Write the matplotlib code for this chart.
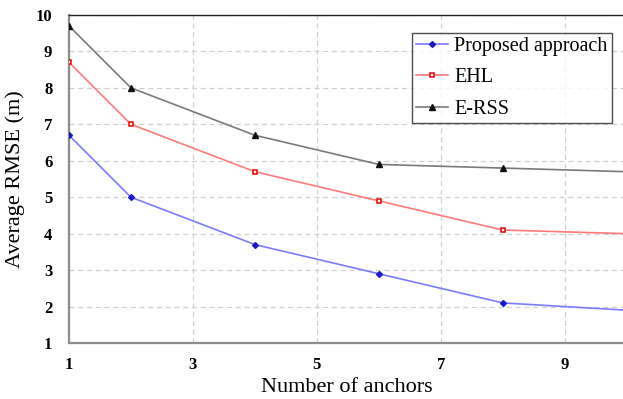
import matplotlib
matplotlib.use("Agg")
import matplotlib.pyplot as plt

anchors = [1, 2, 4, 6, 8, 10]
proposed = [6.7, 5.0, 3.7, 2.9, 2.1, 1.9]
ehl = [8.7, 7.0, 5.7, 4.9, 4.1, 4.0]
erss = [9.7, 8.0, 6.7, 5.9, 5.8, 5.7]
x_ticks = [1, 3, 5, 7, 9]
y_ticks = [1, 2, 3, 4, 5, 6, 7, 8, 9, 10]

plt.rcParams["font.family"] = ["Liberation Serif", "DejaVu Serif"]

fig = plt.figure(figsize=(6.23, 3.99), dpi=100)
ax = fig.add_axes([69 / 623, 1 - 343 / 399, 1 - 69 / 623 + 0.002, (343 - 15) / 399])

ax.plot(anchors, proposed, color="#7b7bff", lw=1.2, marker="D", ms=3,
        mfc="#1a1acc", mec="#1a1acc", label="Proposed approach", zorder=3)
ax.plot(anchors, ehl, color="#ff7b7b", lw=1.2, marker="s", ms=3.5,
        mfc="white", mec="#ee0000", mew=1.1, label="EHL", zorder=3)
ax.plot(anchors, erss, color="#7a7a7a", lw=1.2, marker="^", ms=4,
        mfc="#111111", mec="#111111", label="E-RSS", zorder=3)

ax.set_xlim(1, 9.96)
ax.set_ylim(1, 10)
ax.set_xticks(x_ticks)
ax.set_yticks(y_ticks)
ax.grid(True, color="#d0d0d0", ls=(0, (4, 3)), lw=0.9)
ax.set_axisbelow(True)

for side in ("left", "bottom"):
    ax.spines[side].set_color("#8c8c8c")
    ax.spines[side].set_linewidth(1.6)
ax.spines["top"].set_color("#222222")
ax.spines["top"].set_linewidth(1.0)
ax.spines["right"].set_visible(False)

ax.tick_params(length=0, pad=10, labelsize=12)
for lbl in ax.get_xticklabels() + ax.get_yticklabels():
    lbl.set_fontweight("bold")
ax.tick_params(axis="y", pad=12)

ax.set_xlabel("Number of anchors", fontsize=16, labelpad=4)
ax.set_ylabel("Average RMSE (m)", fontsize=16, labelpad=8)

leg = ax.legend(loc="upper right", bbox_to_anchor=(0.978, 0.946), fontsize=14.5,
                frameon=True, fancybox=False, edgecolor="#222222",
                handlelength=1.6, handletextpad=0.3, borderpad=0.22,
                labelspacing=0.6, borderaxespad=0)
leg.get_frame().set_linewidth(1.0)

fig.savefig("out.png", dpi=100)
